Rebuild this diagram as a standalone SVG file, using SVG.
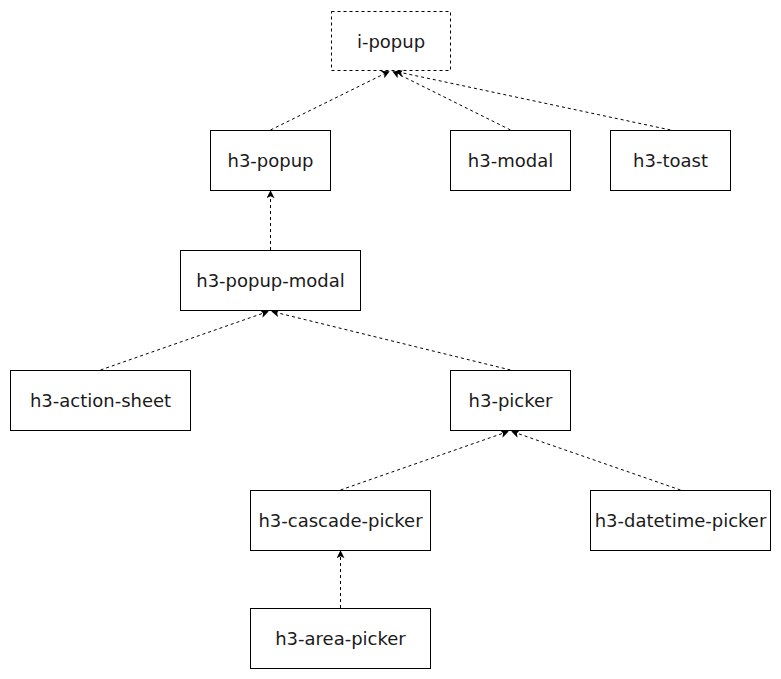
<svg xmlns="http://www.w3.org/2000/svg" width="781" height="679" viewBox="0 0 781 679">
<style>
.n rect{fill:#fff;stroke:#000;stroke-width:1}
.n text{font-family:"DejaVu Sans",sans-serif;font-size:18px;fill:#1a1a1a;text-anchor:middle;dominant-baseline:central}
.e{stroke:#000;stroke-width:1;stroke-dasharray:3 3;fill:none;marker-end:url(#a)}
</style>
<defs>
<marker id="a" viewBox="0 0 10 10" refX="9" refY="5" markerWidth="8" markerHeight="8" orient="auto" markerUnits="userSpaceOnUse">
<path d="M0,0 L10,5 L0,10 L2.5,5 Z" fill="#000"/>
</marker>
</defs>
<rect width="781" height="679" fill="#fff"/>
<g id="edges">
<line class="e" x1="270.5" y1="130" x2="389" y2="71.5"/>
<line class="e" x1="510.5" y1="130" x2="393" y2="71.5"/>
<line class="e" x1="670.5" y1="130" x2="396" y2="71.5"/>
<line class="e" x1="270.5" y1="250" x2="270.5" y2="191"/>
<line class="e" x1="100.5" y1="370" x2="268" y2="311.5"/>
<line class="e" x1="510.5" y1="370" x2="272" y2="311.5"/>
<line class="e" x1="340.5" y1="490" x2="508" y2="431.5"/>
<line class="e" x1="680.5" y1="490" x2="512" y2="431.5"/>
<line class="e" x1="340.5" y1="608" x2="340.5" y2="551"/>
</g>
<g id="i-popup" class="n"><rect x="331.5" y="11.5" width="119" height="59" stroke-dasharray="3 3"/><text x="391" y="41">i-popup</text></g>
<g id="h3-popup" class="n"><rect x="210.5" y="130.5" width="120" height="60"/><text x="270.5" y="160">h3-popup</text></g>
<g id="h3-modal" class="n"><rect x="450.5" y="130.5" width="120" height="60"/><text x="510.5" y="160">h3-modal</text></g>
<g id="h3-toast" class="n"><rect x="610.5" y="130.5" width="120" height="60"/><text x="670.5" y="160">h3-toast</text></g>
<g id="h3-popup-modal" class="n"><rect x="180.5" y="250.5" width="180" height="60"/><text x="270.5" y="280">h3-popup-modal</text></g>
<g id="h3-action-sheet" class="n"><rect x="10.5" y="370.5" width="180" height="60"/><text x="100.5" y="400">h3-action-sheet</text></g>
<g id="h3-picker" class="n"><rect x="450.5" y="370.5" width="120" height="60"/><text x="510.5" y="400">h3-picker</text></g>
<g id="h3-cascade-picker" class="n"><rect x="250.5" y="490.5" width="180" height="60"/><text x="340.5" y="520">h3-cascade-picker</text></g>
<g id="h3-datetime-picker" class="n"><rect x="590.5" y="490.5" width="180" height="60"/><text x="680.5" y="520">h3-datetime-picker</text></g>
<g id="h3-area-picker" class="n"><rect x="250.5" y="608.5" width="180" height="60"/><text x="340.5" y="638">h3-area-picker</text></g>
</svg>
